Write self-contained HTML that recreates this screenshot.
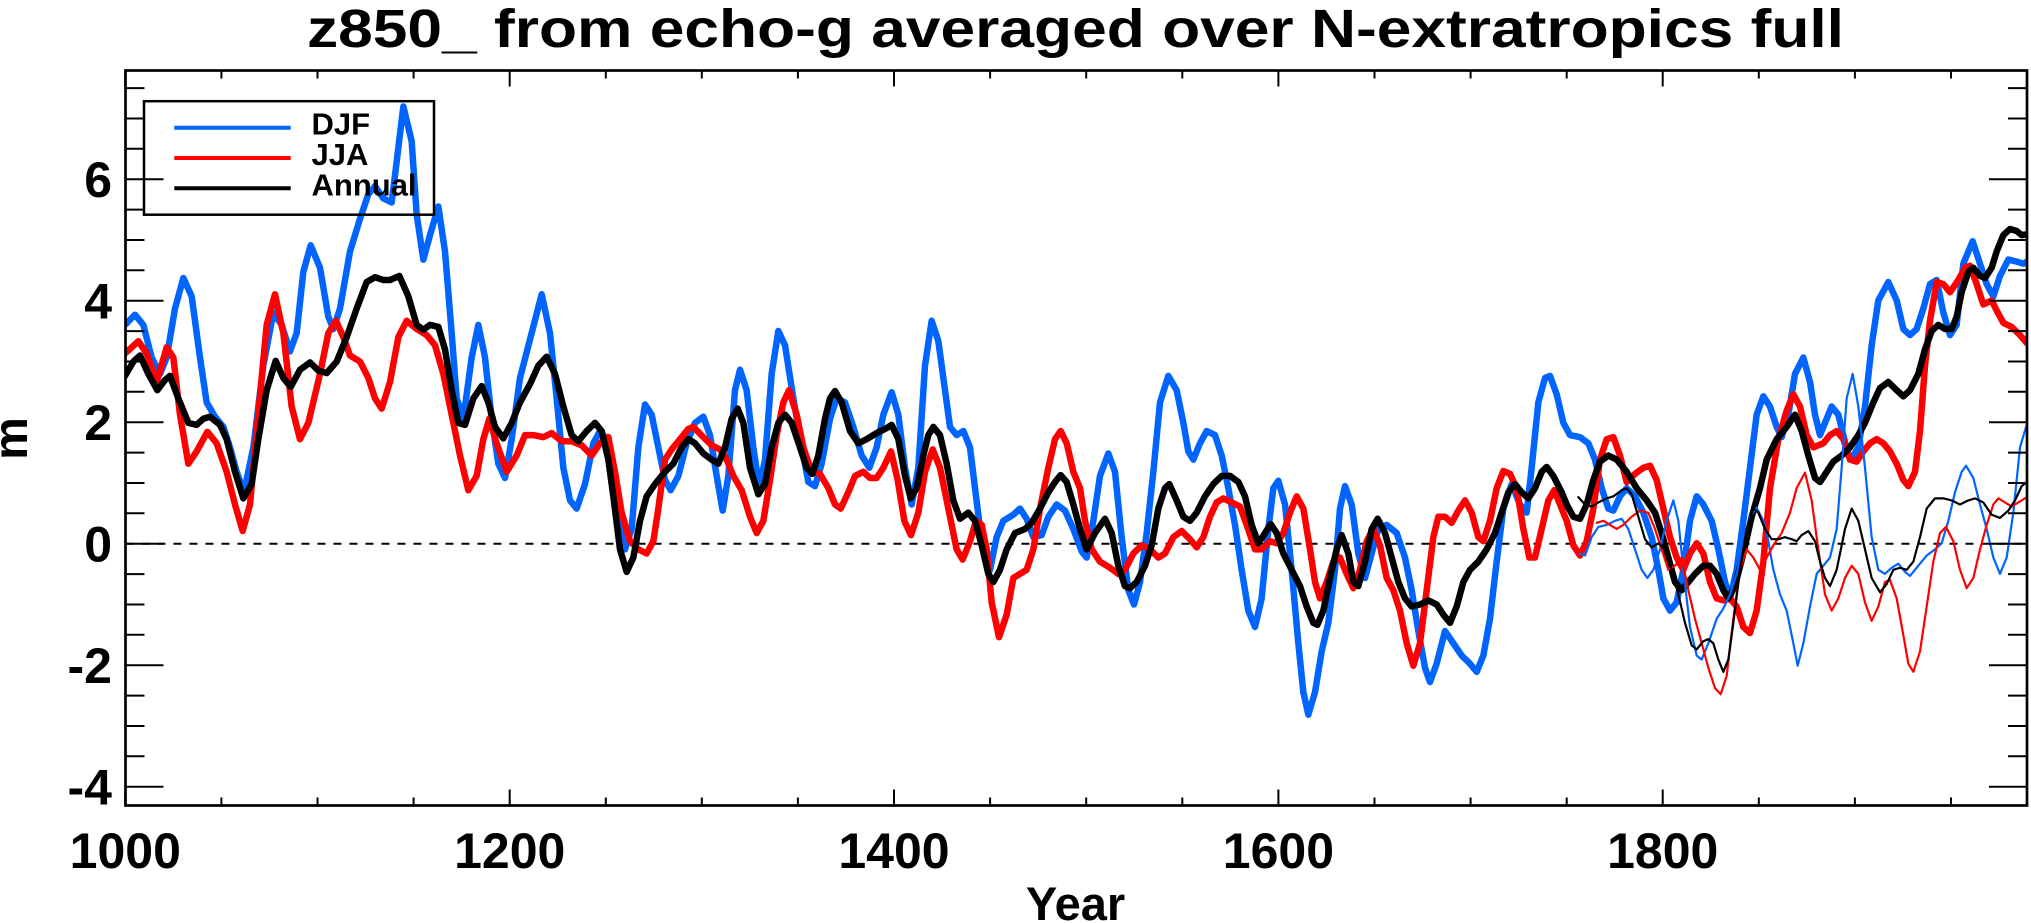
<!DOCTYPE html>
<html>
<head>
<meta charset="utf-8">
<style>
  html, body { margin: 0; padding: 0; background: #ffffff; }
  svg { display: block; }
  text { font-family: "Liberation Sans", Arial, sans-serif; font-weight: bold; fill: #000; }
</style>
</head>
<body>
<svg width="2031" height="923" viewBox="0 0 2031 923" xmlns="http://www.w3.org/2000/svg">
  <rect x="0" y="0" width="2031" height="923" fill="#ffffff"/>
  <defs>
    <clipPath id="plotclip">
      <rect x="125.5" y="70.5" width="1901.5" height="735"/>
    </clipPath>
  </defs>

  <!-- Title -->
  <text x="1075.5" y="47" font-size="54" text-anchor="middle" textLength="1537" lengthAdjust="spacingAndGlyphs">z850_ from echo-g averaged over N-extratropics full</text>

  <!-- zero dotted line -->
  <line x1="125.5" y1="543.7" x2="2027" y2="543.7" stroke="#000" stroke-width="2" stroke-dasharray="8 8"/>

  <!-- Data series -->
  <g clip-path="url(#plotclip)">
    <g transform="translate(120 80) scale(0.333333 0.408163)" fill="none" stroke-linejoin="round" stroke-linecap="round">
      <!-- DJF thick -->
      <polyline vector-effect="non-scaling-stroke" stroke="#0064ff" stroke-width="6.5" points="15,600 45,575 70,600 95,680 120,720 140,680 165,560 190,485 215,530 240,680 260,790 285,825 310,850 330,900 350,960 372,1010 400,900 430,700 460,570 485,600 510,665 530,620 550,470 572,405 600,460 625,580 640,610 660,560 690,420 720,340 745,280 765,260 790,290 815,300 830,200 850,65 875,150 890,330 910,440 930,380 955,310 975,420 995,620 1010,780 1030,830 1055,680 1075,600 1095,680 1115,830 1135,940 1155,975 1175,880 1200,730 1235,620 1265,525 1290,620 1310,780 1330,950 1350,1030 1370,1050 1395,990 1420,890 1440,860 1460,880 1495,1080 1515,1150 1535,1100 1555,900 1575,795 1595,820 1615,900 1635,980 1652,1005 1675,970 1700,890 1725,840 1750,825 1770,870 1790,970 1808,1055 1825,970 1845,760 1860,710 1880,760 1900,900 1918,1000 1935,930 1955,720 1975,615 1995,650 2020,780 2045,900 2065,985 2085,995 2105,940 2130,830 2150,780 2175,790 2200,850 2225,920 2248,950 2270,900 2290,820 2315,765 2335,820 2355,950 2375,1040 2395,950 2415,700 2435,590 2455,640 2475,760 2490,850 2510,870 2530,860 2550,900 2565,1000 2585,1130 2610,1200 2630,1120 2650,1080 2680,1065 2700,1050 2720,1075 2740,1120 2765,1115 2785,1070 2810,1040 2835,1055 2860,1100 2885,1155 2900,1170 2920,1080 2940,970 2965,915 2985,960 3005,1120 3025,1250 3042,1285 3060,1230 3080,1110 3100,960 3120,790 3145,725 3170,760 3190,840 3205,910 3220,930 3240,890 3260,860 3285,870 3305,920 3325,1000 3345,1090 3365,1200 3385,1300 3405,1340 3425,1270 3445,1100 3460,1000 3475,982 3495,1040 3515,1200 3535,1380 3550,1500 3565,1555 3585,1500 3605,1400 3625,1330 3645,1200 3660,1050 3675,995 3695,1040 3715,1160 3735,1220 3755,1160 3775,1100 3800,1090 3830,1110 3855,1170 3875,1250 3895,1350 3915,1440 3930,1475 3950,1430 3975,1350 4000,1380 4025,1410 4050,1430 4070,1450 4090,1410 4110,1320 4130,1180 4150,1050 4175,990 4200,1040 4220,1060 4235,950 4255,790 4275,730 4290,725 4310,770 4330,840 4350,870 4380,875 4405,890 4425,930 4445,1000 4465,1050 4480,1055 4500,1020 4520,1000 4545,1020 4570,1060 4595,1120 4615,1200 4630,1270 4650,1300 4670,1280 4690,1200 4710,1080 4730,1020 4750,1040 4775,1080 4795,1150 4815,1230 4830,1270 4850,1200 4870,1080 4890,950 4910,820 4930,775 4950,800 4970,850 4985,875 5005,820 5025,720 5050,680 5070,740 5085,820 5100,870 5115,840 5135,800 5155,820 5170,870 5185,920 5200,920 5215,900 5235,800 5255,650 5275,540 5305,495 5330,540 5350,610 5370,625 5390,610 5410,560 5430,500 5450,490 5470,570 5490,625 5510,600 5530,450 5558,395 5580,450 5600,500 5620,530 5640,480 5665,440 5690,445 5710,450 5721,445"/>
      <!-- JJA thick -->
      <polyline vector-effect="non-scaling-stroke" stroke="#ff0000" stroke-width="6.5" points="15,670 35,655 55,640 80,670 110,740 140,655 160,680 180,820 205,940 230,910 262,862 290,890 320,960 345,1040 368,1105 390,1040 410,860 440,600 465,525 490,620 515,800 540,880 565,840 600,720 625,620 648,590 670,630 690,675 720,690 745,730 765,780 785,805 810,740 835,630 860,590 890,610 920,625 945,650 970,720 995,820 1020,920 1045,1005 1070,970 1090,880 1108,830 1130,890 1160,960 1190,920 1215,870 1240,870 1270,875 1295,865 1325,885 1355,885 1385,895 1415,920 1440,890 1465,875 1485,960 1505,1060 1530,1130 1555,1150 1580,1160 1600,1130 1615,1050 1635,930 1655,905 1680,880 1705,855 1720,850 1750,875 1775,895 1800,905 1820,930 1840,970 1865,1005 1890,1070 1910,1110 1930,1080 1950,980 1970,870 1990,790 2007,760 2030,820 2050,900 2075,960 2100,965 2125,1000 2145,1040 2162,1050 2185,1010 2205,970 2230,960 2250,975 2270,975 2290,950 2313,910 2333,980 2353,1080 2373,1115 2395,1060 2415,960 2438,905 2460,950 2485,1050 2510,1150 2528,1175 2550,1130 2568,1080 2585,1090 2600,1150 2615,1280 2637,1365 2660,1310 2680,1220 2700,1210 2720,1200 2740,1150 2760,1050 2785,950 2805,880 2822,860 2840,890 2860,960 2880,1000 2895,1080 2915,1150 2940,1180 2970,1195 2995,1210 3015,1200 3040,1160 3065,1140 3090,1150 3115,1170 3135,1160 3160,1120 3185,1105 3210,1125 3230,1145 3250,1120 3270,1070 3290,1035 3310,1025 3335,1035 3360,1045 3380,1090 3405,1150 3425,1150 3450,1130 3470,1135 3490,1110 3510,1060 3530,1020 3550,1050 3570,1150 3585,1230 3600,1270 3620,1230 3640,1180 3660,1170 3680,1210 3700,1245 3720,1200 3740,1130 3760,1100 3780,1140 3800,1220 3820,1250 3840,1300 3860,1380 3880,1435 3900,1380 3920,1250 3940,1120 3955,1070 3975,1070 3995,1085 4015,1055 4035,1030 4055,1060 4075,1120 4090,1130 4110,1080 4130,1000 4150,958 4170,965 4190,1000 4210,1100 4228,1170 4245,1170 4265,1100 4285,1030 4303,1005 4325,1050 4340,1080 4360,1140 4380,1165 4400,1130 4420,1050 4440,930 4460,880 4480,875 4500,920 4520,985 4545,965 4570,950 4590,945 4610,980 4630,1050 4650,1120 4670,1170 4690,1200 4710,1160 4730,1135 4750,1160 4770,1230 4790,1270 4810,1275 4830,1270 4850,1290 4870,1340 4890,1355 4910,1300 4930,1180 4950,1000 4975,880 5000,810 5020,770 5040,800 5060,870 5080,900 5110,890 5130,870 5150,860 5170,880 5190,930 5210,935 5230,910 5250,890 5270,880 5290,890 5310,910 5330,940 5350,980 5365,995 5385,960 5400,860 5415,700 5430,590 5450,495 5470,500 5490,520 5515,490 5535,460 5550,455 5570,500 5590,550 5615,540 5630,565 5650,595 5675,605 5700,625 5721,645"/>
      <!-- Annual thick -->
      <polyline vector-effect="non-scaling-stroke" stroke="#000000" stroke-width="6.5" points="15,725 40,690 60,675 85,720 112,760 135,735 150,725 175,780 205,840 230,845 250,830 270,825 300,845 320,880 345,960 370,1025 395,990 415,880 440,760 467,688 490,730 512,752 540,710 570,692 595,712 620,718 650,690 680,630 710,560 740,495 765,483 790,490 810,490 838,480 865,530 890,600 910,612 930,600 955,605 975,660 995,760 1015,840 1035,845 1060,780 1085,750 1105,790 1125,850 1150,878 1175,840 1200,790 1230,745 1255,700 1280,678 1305,720 1330,800 1355,870 1375,885 1400,860 1425,840 1445,860 1465,930 1480,1020 1500,1150 1520,1205 1540,1170 1560,1080 1580,1020 1605,990 1635,960 1660,940 1685,900 1705,880 1725,890 1750,915 1775,930 1795,940 1815,900 1835,830 1853,805 1870,840 1890,950 1915,1015 1935,990 1955,900 1975,840 1995,820 2015,840 2040,900 2060,950 2077,965 2095,920 2115,830 2130,780 2145,762 2165,790 2190,860 2215,890 2240,880 2270,865 2295,855 2315,845 2335,880 2355,970 2372,1025 2390,1000 2410,920 2425,870 2440,850 2460,870 2480,940 2500,1030 2520,1075 2545,1060 2565,1080 2585,1140 2605,1210 2620,1230 2640,1200 2660,1150 2685,1110 2715,1100 2735,1085 2760,1050 2785,1010 2805,985 2822,968 2840,985 2860,1040 2880,1100 2900,1150 2925,1110 2955,1075 2975,1110 2995,1190 3015,1240 3030,1245 3050,1230 3075,1190 3095,1140 3115,1050 3135,1000 3148,990 3170,1030 3190,1070 3210,1080 3230,1060 3255,1020 3280,990 3305,970 3330,970 3355,985 3375,1020 3395,1090 3415,1135 3435,1110 3452,1088 3470,1110 3490,1160 3515,1200 3540,1240 3560,1290 3580,1330 3592,1335 3610,1300 3630,1220 3650,1150 3665,1115 3685,1160 3700,1230 3715,1240 3735,1180 3755,1100 3773,1075 3795,1110 3815,1170 3835,1230 3855,1270 3875,1290 3900,1285 3925,1275 3950,1285 3970,1310 3990,1330 4010,1290 4030,1230 4050,1200 4075,1180 4100,1150 4125,1110 4145,1060 4165,1010 4185,990 4205,1010 4225,1025 4245,1000 4265,960 4280,948 4300,970 4325,1010 4340,1040 4360,1070 4380,1075 4400,1040 4420,980 4440,935 4465,920 4490,930 4520,960 4550,1000 4580,1030 4605,1060 4625,1110 4645,1170 4665,1230 4685,1250 4705,1230 4725,1210 4750,1190 4770,1190 4790,1210 4810,1250 4825,1270 4845,1240 4870,1160 4895,1070 4920,1000 4940,930 4970,880 5000,850 5025,820 5045,860 5065,920 5085,975 5100,985 5120,960 5140,935 5165,920 5190,900 5215,870 5235,840 5260,790 5280,755 5305,740 5330,760 5350,775 5370,760 5395,720 5415,660 5435,615 5455,600 5475,610 5495,610 5510,580 5525,520 5545,470 5560,460 5580,480 5595,485 5615,460 5630,420 5650,380 5670,365 5690,370 5705,380 5721,378"/>
      <!-- thin DJF -->
      <polyline vector-effect="non-scaling-stroke" stroke="#0064ff" stroke-width="2.2" points="4380,1160 4395,1165 4415,1120 4435,1095 4460,1090 4485,1080 4505,1075 4525,1100 4545,1150 4565,1200 4582,1220 4600,1200 4620,1150 4640,1080 4660,1030 4675,1080 4690,1200 4710,1340 4730,1410 4745,1420 4765,1380 4790,1320 4810,1295 4830,1260 4850,1210 4870,1130 4890,1070 4910,1048 4930,1080 4945,1130 4960,1200 4980,1260 5000,1300 5020,1380 5033,1435 5050,1380 5070,1290 5090,1210 5110,1190 5130,1170 5150,1100 5165,950 5180,780 5198,720 5215,800 5235,950 5255,1120 5275,1200 5295,1210 5315,1195 5335,1185 5355,1205 5370,1215 5395,1190 5420,1165 5445,1150 5465,1135 5485,1080 5505,1010 5525,960 5538,945 5560,975 5580,1040 5600,1100 5620,1170 5640,1210 5660,1170 5680,1060 5700,900 5720,845"/>
      <!-- thin JJA -->
      <polyline vector-effect="non-scaling-stroke" stroke="#ff0000" stroke-width="2.2" points="4430,1085 4450,1080 4470,1090 4490,1100 4510,1090 4535,1070 4560,1055 4585,1060 4605,1100 4625,1150 4645,1200 4665,1190 4685,1170 4705,1250 4725,1320 4745,1380 4765,1440 4785,1490 4802,1505 4820,1460 4840,1320 4860,1200 4880,1150 4900,1170 4920,1200 4940,1170 4960,1140 4985,1110 5010,1060 5030,1000 5055,962 5075,1030 5095,1150 5115,1260 5135,1300 5155,1270 5175,1220 5195,1190 5215,1210 5235,1280 5255,1325 5275,1290 5295,1230 5310,1225 5330,1270 5350,1360 5365,1430 5380,1450 5400,1400 5420,1290 5440,1180 5460,1110 5478,1095 5500,1130 5520,1200 5540,1245 5560,1220 5580,1150 5600,1090 5620,1040 5635,1025 5655,1035 5675,1045 5695,1035 5715,1025 5721,1022"/>
      <!-- thin Annual -->
      <polyline vector-effect="non-scaling-stroke" stroke="#000000" stroke-width="2.2" points="4375,1022 4395,1040 4415,1045 4435,1035 4460,1025 4480,1020 4505,1005 4520,1000 4535,1015 4555,1070 4575,1125 4595,1145 4615,1135 4635,1150 4655,1200 4675,1260 4695,1330 4715,1385 4730,1395 4750,1375 4765,1370 4780,1380 4795,1420 4810,1450 4825,1420 4840,1330 4860,1200 4880,1100 4900,1050 4915,1060 4935,1100 4955,1125 4975,1125 4995,1120 5015,1125 5030,1130 5045,1115 5065,1105 5085,1130 5100,1180 5115,1220 5130,1240 5150,1200 5175,1100 5195,1050 5215,1080 5235,1150 5255,1220 5280,1255 5300,1235 5320,1200 5340,1195 5360,1200 5380,1180 5400,1120 5420,1050 5445,1025 5470,1025 5495,1030 5520,1040 5545,1030 5565,1025 5590,1035 5615,1065 5640,1073 5665,1055 5685,1030 5705,995 5721,985"/>
    </g>
  </g>

  <!-- Axes box -->
  <rect x="125.5" y="70.5" width="1901.5" height="735" fill="none" stroke="#000" stroke-width="2.7"/>

  <!-- X ticks (bottom and top) -->
  <g stroke="#000" stroke-width="2">
    <!-- majors -->
    <path d="M125.3 805.5V789.5 M509.7 805.5V789.5 M894 805.5V789.5 M1278.4 805.5V789.5 M1662.7 805.5V789.5
             M125.3 70.5V86.5 M509.7 70.5V86.5 M894 70.5V86.5 M1278.4 70.5V86.5 M1662.7 70.5V86.5"/>
    <!-- minors -->
    <path d="M221.4 805.5V797.5 M317.5 805.5V797.5 M413.6 805.5V797.5 M605.8 805.5V797.5 M701.8 805.5V797.5 M797.9 805.5V797.5 M990.1 805.5V797.5 M1086.2 805.5V797.5 M1182.3 805.5V797.5 M1374.5 805.5V797.5 M1470.6 805.5V797.5 M1566.7 805.5V797.5 M1758.8 805.5V797.5 M1854.9 805.5V797.5 M1951 805.5V797.5
             M221.4 70.5V78.5 M317.5 70.5V78.5 M413.6 70.5V78.5 M605.8 70.5V78.5 M701.8 70.5V78.5 M797.9 70.5V78.5 M990.1 70.5V78.5 M1086.2 70.5V78.5 M1182.3 70.5V78.5 M1374.5 70.5V78.5 M1470.6 70.5V78.5 M1566.7 70.5V78.5 M1758.8 70.5V78.5 M1854.9 70.5V78.5 M1951 70.5V78.5"/>
  </g>

  <!-- Y ticks (left and right) -->
  <g stroke="#000" stroke-width="2">
    <path d="M125.5 786.7H163.5 M125.5 665.2H163.5 M125.5 543.7H163.5 M125.5 422.2H163.5 M125.5 300.7H163.5 M125.5 179.2H163.5
             M2027 786.7H1989 M2027 665.2H1989 M2027 543.7H1989 M2027 422.2H1989 M2027 300.7H1989 M2027 179.2H1989"/>
    <path d="M125.5 756.3H144.5 M125.5 726H144.5 M125.5 695.6H144.5 M125.5 634.8H144.5 M125.5 604.5H144.5 M125.5 574.1H144.5 M125.5 513.3H144.5 M125.5 483H144.5 M125.5 452.6H144.5 M125.5 391.8H144.5 M125.5 361.5H144.5 M125.5 331.1H144.5 M125.5 270.3H144.5 M125.5 240H144.5 M125.5 209.6H144.5 M125.5 148.8H144.5 M125.5 118.5H144.5 M125.5 88.1H144.5
             M2027 756.3H2008 M2027 726H2008 M2027 695.6H2008 M2027 634.8H2008 M2027 604.5H2008 M2027 574.1H2008 M2027 513.3H2008 M2027 483H2008 M2027 452.6H2008 M2027 391.8H2008 M2027 361.5H2008 M2027 331.1H2008 M2027 270.3H2008 M2027 240H2008 M2027 209.6H2008 M2027 148.8H2008 M2027 118.5H2008 M2027 88.1H2008"/>
  </g>

  <!-- Y tick labels -->
  <g font-size="50" text-anchor="end">
    <text x="112" y="197">6</text>
    <text x="112" y="318.5">4</text>
    <text x="112" y="440">2</text>
    <text x="112" y="561.5">0</text>
    <text x="112" y="683">-2</text>
    <text x="112" y="804.5">-4</text>
  </g>

  <!-- X tick labels -->
  <g font-size="50" text-anchor="middle">
    <text x="125.3" y="868">1000</text>
    <text x="509.7" y="868">1200</text>
    <text x="894" y="868">1400</text>
    <text x="1278.4" y="868">1600</text>
    <text x="1662.7" y="868">1800</text>
  </g>

  <!-- Axis titles -->
  <text x="1075.5" y="920" font-size="47" text-anchor="middle">Year</text>
  <text x="27" y="438.5" font-size="48" text-anchor="middle" transform="rotate(-90 27 438.5)">m</text>

  <!-- Legend -->
  <rect x="144" y="101.2" width="290" height="113.5" fill="none" stroke="#000" stroke-width="2.5"/>
  <line x1="174.3" y1="127.8" x2="290.7" y2="127.8" stroke="#0064ff" stroke-width="4"/>
  <line x1="174.3" y1="158" x2="290.7" y2="158" stroke="#ff0000" stroke-width="4"/>
  <line x1="174.3" y1="188.2" x2="290.7" y2="188.2" stroke="#000000" stroke-width="4"/>
  <g font-size="31">
    <text x="311.5" y="134.5">DJF</text>
    <text x="311.5" y="165">JJA</text>
    <text x="311.5" y="195.5">Annual</text>
  </g>
</svg>
</body>
</html>
